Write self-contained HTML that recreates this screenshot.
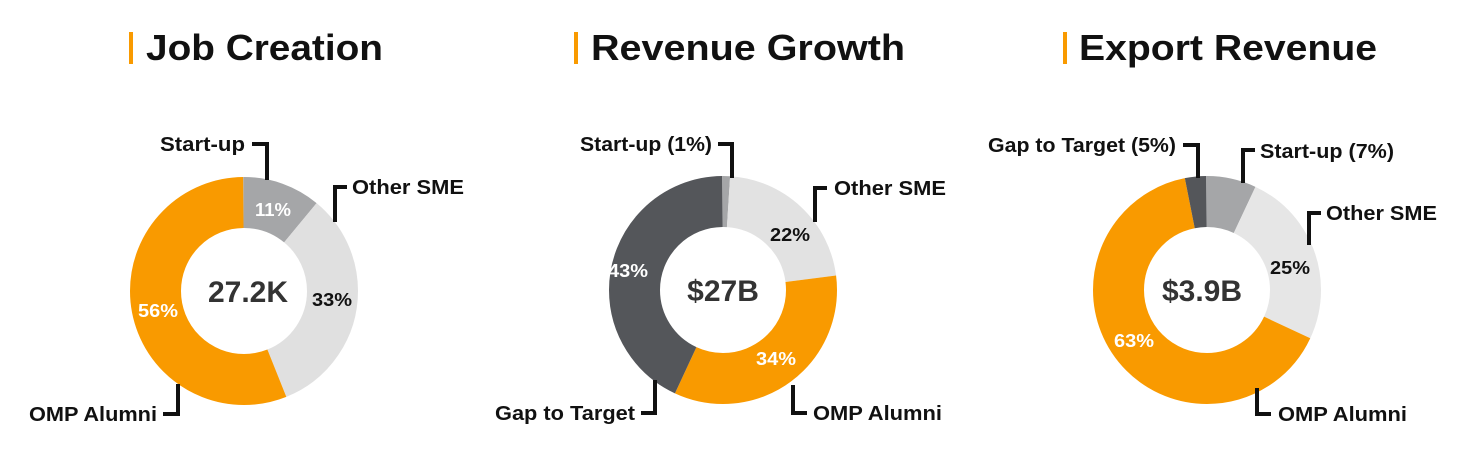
<!DOCTYPE html>
<html><head><meta charset="utf-8"><style>
body{margin:0;background:#fff;width:1467px;height:454px;overflow:hidden}
svg{font-family:"Liberation Sans",Arial,sans-serif;font-weight:bold}
</style></head><body>
<svg width="1467" height="454" viewBox="0 0 1467 454">
<g fill="#F99A00"><rect x="129" y="32" width="4" height="32"/><rect x="574" y="32" width="4" height="32"/><rect x="1063" y="32" width="4" height="32"/></g>
<g font-size="36" fill="#111" lengthAdjust="spacingAndGlyphs">
<text x="146" y="60" textLength="237" lengthAdjust="spacingAndGlyphs">Job Creation</text>
<text x="591" y="60" textLength="314" lengthAdjust="spacingAndGlyphs">Revenue Growth</text>
<text x="1079" y="60" textLength="298" lengthAdjust="spacingAndGlyphs">Export Revenue</text>
</g>
<g fill="none" stroke-width="51">
<g transform="rotate(-90 244 291)">
<circle cx="244" cy="291" r="88.5" pathLength="100" stroke="#A5A6A8" stroke-dasharray="11 89"/>
<circle cx="244" cy="291" r="88.5" pathLength="100" stroke="#E0E0E0" stroke-dasharray="0 11 33 56"/>
<circle cx="244" cy="291" r="88.5" pathLength="100" stroke="#F99A00" stroke-dasharray="0 44 56 0"/>
</g>
<g transform="rotate(-90 723 290)">
<circle cx="723" cy="290" r="88.5" pathLength="100" stroke="#A5A6A8" stroke-dasharray="1 99"/>
<circle cx="723" cy="290" r="88.5" pathLength="100" stroke="#E2E2E2" stroke-dasharray="0 1 22 77"/>
<circle cx="723" cy="290" r="88.5" pathLength="100" stroke="#F99A00" stroke-dasharray="0 23 34 43"/>
<circle cx="723" cy="290" r="88.5" pathLength="100" stroke="#54565A" stroke-dasharray="0 57 43 0"/>
</g>
<g transform="rotate(-90 1207 290)">
<circle cx="1207" cy="290" r="88.5" pathLength="100" stroke="#A5A6A8" stroke-dasharray="7 93"/>
<circle cx="1207" cy="290" r="88.5" pathLength="100" stroke="#E6E6E6" stroke-dasharray="0 7 25 68"/>
<circle cx="1207" cy="290" r="88.5" pathLength="100" stroke="#F99A00" stroke-dasharray="0 32 65 3"/>
<circle cx="1207" cy="290" r="88.5" pathLength="100" stroke="#54565A" stroke-dasharray="0 97 3 0"/>
</g>
</g>
<g fill="#333" font-size="30" text-anchor="middle">
<text x="248" y="302">27.2K</text>
<text x="723" y="301">$27B</text>
<text x="1202" y="301">$3.9B</text>
</g>
<g font-size="18" text-anchor="middle">
<text x="273" y="216" fill="#fff" textLength="36" lengthAdjust="spacingAndGlyphs">11%</text>
<text x="332" y="306" fill="#111" textLength="40" lengthAdjust="spacingAndGlyphs">33%</text>
<text x="158" y="317" fill="#fff" textLength="40" lengthAdjust="spacingAndGlyphs">56%</text>
<text x="790" y="241" fill="#111" textLength="40" lengthAdjust="spacingAndGlyphs">22%</text>
<text x="776" y="365" fill="#fff" textLength="40" lengthAdjust="spacingAndGlyphs">34%</text>
<text x="628" y="277" fill="#fff" textLength="40" lengthAdjust="spacingAndGlyphs">43%</text>
<text x="1290" y="274" fill="#111" textLength="40" lengthAdjust="spacingAndGlyphs">25%</text>
<text x="1134" y="347" fill="#fff" textLength="40" lengthAdjust="spacingAndGlyphs">63%</text>
</g>
<g fill="none" stroke="#111" stroke-width="4">
<polyline points="252,144 267,144 267,180"/>
<polyline points="347,187 335,187 335,222"/>
<polyline points="163,414 178,414 178,384"/>
<polyline points="718,144 732,144 732,178"/>
<polyline points="827,188 815,188 815,222"/>
<polyline points="641,413 655,413 655,380"/>
<polyline points="807,413 793,413 793,385"/>
<polyline points="1183,145 1198,145 1198,178"/>
<polyline points="1255,150 1243,150 1243,183"/>
<polyline points="1321,213 1309,213 1309,245"/>
<polyline points="1271,414 1257,414 1257,388"/>
</g>
<g font-size="20" fill="#111">
<text x="160" y="151" textLength="85" lengthAdjust="spacingAndGlyphs">Start-up</text>
<text x="352" y="194" textLength="112" lengthAdjust="spacingAndGlyphs">Other SME</text>
<text x="29" y="421" textLength="128" lengthAdjust="spacingAndGlyphs">OMP Alumni</text>
<text x="580" y="151" textLength="132" lengthAdjust="spacingAndGlyphs">Start-up (1%)</text>
<text x="834" y="195" textLength="112" lengthAdjust="spacingAndGlyphs">Other SME</text>
<text x="495" y="420" textLength="140" lengthAdjust="spacingAndGlyphs">Gap to Target</text>
<text x="813" y="420" textLength="129" lengthAdjust="spacingAndGlyphs">OMP Alumni</text>
<text x="988" y="152" textLength="188" lengthAdjust="spacingAndGlyphs">Gap to Target (5%)</text>
<text x="1260" y="158" textLength="134" lengthAdjust="spacingAndGlyphs">Start-up (7%)</text>
<text x="1326" y="220" textLength="111" lengthAdjust="spacingAndGlyphs">Other SME</text>
<text x="1278" y="421" textLength="129" lengthAdjust="spacingAndGlyphs">OMP Alumni</text>
</g>
</svg>
</body></html>
